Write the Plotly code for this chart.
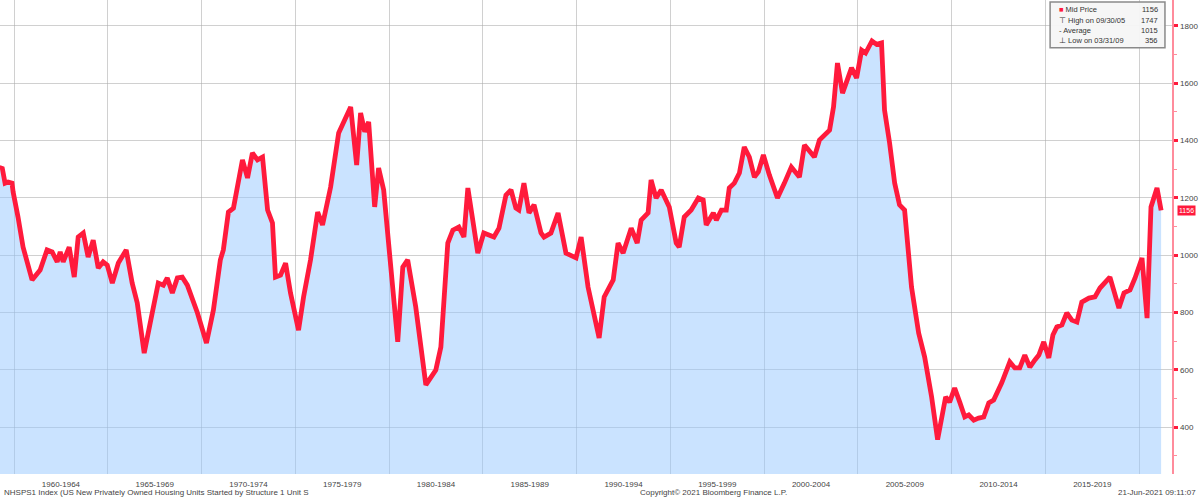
import plotly.graph_objects as go

# Quarterly-ish readings (decimal year, housing starts thousands)
years = [1959.25, 1959.36, 1959.52, 1959.68, 1959.89, 1959.95, 1960.21, 1960.48, 1960.96, 1961.39,
         1961.76, 1962.03, 1962.30, 1962.46, 1962.62, 1962.94, 1963.21, 1963.42, 1963.69, 1963.95,
         1964.22, 1964.49, 1964.75, 1964.97, 1965.24, 1965.56, 1965.98, 1966.30, 1966.57, 1966.94,
         1967.26, 1967.69, 1967.96, 1968.17, 1968.44, 1968.71, 1968.97, 1969.24, 1969.78, 1970.26,
         1970.63, 1971.00, 1971.16, 1971.43, 1971.70, 1971.91, 1972.18, 1972.45, 1972.71, 1972.98,
         1973.25, 1973.52, 1973.78, 1973.94, 1974.21, 1974.48, 1974.74, 1975.17, 1975.44, 1975.81,
         1976.19, 1976.45, 1976.88, 1977.31, 1977.58, 1977.95, 1978.27, 1978.48, 1978.70, 1978.91,
         1979.23, 1979.44, 1979.71, 1980.09, 1980.46, 1980.73, 1980.99, 1981.42, 1981.96, 1982.49,
         1982.76, 1983.13, 1983.40, 1983.72, 1983.99, 1984.20, 1984.73, 1985.05, 1985.59, 1985.86,
         1986.23, 1986.50, 1986.76, 1986.92, 1987.19, 1987.46, 1987.73, 1988.10, 1988.26, 1988.63,
         1989.01, 1989.43, 1989.97, 1990.24, 1990.61, 1991.20, 1991.47, 1991.95, 1992.21, 1992.48,
         1992.91, 1993.23, 1993.44, 1993.81, 1993.97, 1994.24, 1994.51, 1994.94, 1995.31, 1995.47,
         1995.74, 1996.11, 1996.49, 1996.75, 1996.91, 1997.29, 1997.45, 1997.72, 1997.98, 1998.14,
         1998.41, 1998.68, 1998.94, 1999.21, 1999.48, 1999.69, 1999.96, 2000.28, 2000.71, 2001.08,
         2001.45, 2001.88, 2002.15, 2002.68, 2002.95, 2003.49, 2003.70, 2003.91, 2004.18, 2004.66,
         2004.93, 2005.20, 2005.41, 2005.75, 2006.00, 2006.26, 2006.42, 2006.69, 2006.96, 2007.22,
         2007.49, 2007.86, 2008.24, 2008.56, 2008.93, 2009.25, 2009.47, 2009.68, 2009.89, 2010.16,
         2010.43, 2010.70, 2010.91, 2011.18, 2011.44, 2011.71, 2011.98, 2012.24, 2012.67, 2013.10,
         2013.37, 2013.63, 2013.90, 2014.17, 2014.44, 2014.65, 2014.91, 2015.18, 2015.40, 2015.61,
         2015.88, 2016.14, 2016.41, 2016.68, 2016.94, 2017.32, 2017.64, 2017.91, 2018.44, 2018.92,
         2019.19, 2019.51, 2019.78, 2020.15, 2020.42, 2020.63, 2020.95, 2021.17]

starts = [1300, 1307, 1251, 1255, 1251, 1220, 1133, 1028, 913, 948,
          1018, 1011, 976, 1011, 976, 1028, 923, 1063, 1077, 993,
          1052, 955, 976, 965, 902, 972, 1018, 902, 833, 658,
          763, 902, 895, 920, 868, 920, 923, 895, 798, 693,
          808, 983, 1018, 1150, 1164, 1237, 1332, 1269, 1356, 1332,
          1342, 1157, 1112, 923, 930, 972, 868, 738, 854, 983,
          1150, 1105, 1237, 1426, 1461, 1517, 1314, 1496, 1430, 1465,
          1168, 1304, 1227, 972, 697, 958, 983, 819, 547, 599,
          679, 1042, 1087, 1098, 1063, 1234, 1007, 1077, 1063, 1094,
          1209, 1227, 1164, 1157, 1251, 1147, 1175, 1077, 1063, 1077,
          1147, 1007, 990, 1063, 888, 711, 854, 913, 1042, 1007,
          1094, 1042, 1122, 1147, 1262, 1199, 1227, 1168, 1042, 1028,
          1133, 1157, 1199, 1192, 1105, 1147, 1122, 1157, 1157, 1234,
          1251, 1286, 1377, 1342, 1272, 1290, 1349, 1279, 1199, 1251,
          1307, 1272, 1384, 1342, 1401, 1436, 1517, 1670, 1565, 1653,
          1618, 1715, 1705, 1747, 1735, 1740, 1506, 1391, 1251, 1175,
          1157, 888, 728, 644, 505, 356, 435, 505, 487, 536,
          487, 435, 442, 424, 431, 435, 484, 494, 554, 627,
          606, 606, 651, 609, 634, 651, 697, 641, 721, 749,
          756, 798, 773, 766, 836, 850, 854, 885, 923, 815,
          868, 878, 920, 990, 780, 1168, 1234, 1156]

period_starts = list(range(1960, 2021, 5))
period_mids = [y + 2.5 for y in period_starts[:-1]]
period_labels = [f"{y}-{y + 4}" for y in period_starts[:-1]]

y_ticks = [400, 600, 800, 1000, 1200, 1400, 1600, 1800]

legend_rows = [("Mid Price", "1156"), ("High on 09/30/05", "1747"),
               ("Average", "1015"), ("Low on 03/31/09", "356")]
legend_icons = ["<span style='color:#ff1a3c'>■</span>", "⊤", "-", "⊥"]
last_value = 1156

RED = "#ff1a3c"
GRID = "rgba(170,170,170,0.55)"

fig = go.Figure()
fig.add_trace(go.Scatter(
    x=years, y=starts, mode="lines",
    line=dict(color=RED, width=4.8, shape="linear"),
    fill="tozeroy", fillcolor="rgba(150,200,255,0.5)",
    hoverinfo="skip", showlegend=False))

fig.update_layout(
    width=1200, height=500,
    margin=dict(l=0, r=28, t=0, b=26),
    paper_bgcolor="white", plot_bgcolor="white", hovermode=False,
    font=dict(family="Liberation Sans, Arial, sans-serif", size=8, color="#444"),
    xaxis=dict(
        range=[1959.25, 2021.75], showgrid=False, zeroline=False,
        tickmode="array", tickvals=period_mids, ticktext=period_labels,
        ticks="", ticklabelstandoff=4, tickfont=dict(size=8, color="#444"),
        minor=dict(tickmode="array", tickvals=period_starts, showgrid=True,
                   gridcolor=GRID, gridwidth=1, ticks=""),
        showline=False),
    yaxis=dict(
        side="right", range=[236, 1890], zeroline=False,
        tickmode="array", tickvals=y_ticks, showgrid=True, gridcolor=GRID, gridwidth=1,
        ticks="outside", ticklen=4, tickwidth=3, tickcolor=RED,
        showline=True, linecolor="#ff8c9c", linewidth=1.5,
        tickfont=dict(size=8, color="#444"), ticklabelstandoff=1,
        minor=dict(dtick=100, ticks="outside", ticklen=3, tickcolor="#ff8c9c",
                   tickwidth=1, showgrid=False)),
)

# Legend box
fig.add_shape(type="rect", xref="paper", yref="paper", x0=0.896, x1=0.994, y0=0.899, y1=0.996,
              line=dict(color="#8a8a8a", width=1.5), fillcolor="rgba(245,245,245,0.95)", layer="above")
row_h = 0.0217
for i, ((name, val), icon) in enumerate(zip(legend_rows, legend_icons)):
    yy = 0.979 - i * row_h
    fig.add_annotation(xref="paper", yref="paper", x=0.902, y=yy, xanchor="left", yanchor="middle",
                       text=f"{icon} {name}", showarrow=False, font=dict(size=7.5, color="#333"))
    fig.add_annotation(xref="paper", yref="paper", x=0.990, y=yy, xanchor="right", yanchor="middle",
                       text=val, showarrow=False, font=dict(size=7.5, color="#333"))

# last value tag
fig.add_annotation(xref="paper", yref="y", x=1, y=last_value, xanchor="left", yanchor="middle",
                   xshift=5, text=str(last_value), showarrow=False, bgcolor=RED,
                   font=dict(size=7, color="white"), borderpad=1)

# footer
for txt, xx, anc in [
    ("NHSPS1 Index (US New Privately Owned Housing Units Started by Structure 1 Unit S", 0.002, "left"),
    ("Copyright© 2021 Bloomberg Finance L.P.", 0.609, "center"),
    ("21-Jun-2021 09:11:07", 1.022, "right"),
]:
    fig.add_annotation(xref="paper", yref="paper", x=xx, y=-0.039, xanchor=anc, yanchor="middle",
                       text=txt, showarrow=False, font=dict(size=8, color="#444"))

fig.write_html("out.html", config={"displayModeBar": False, "staticPlot": True},
               post_script="document.body.style.margin='0px';")
